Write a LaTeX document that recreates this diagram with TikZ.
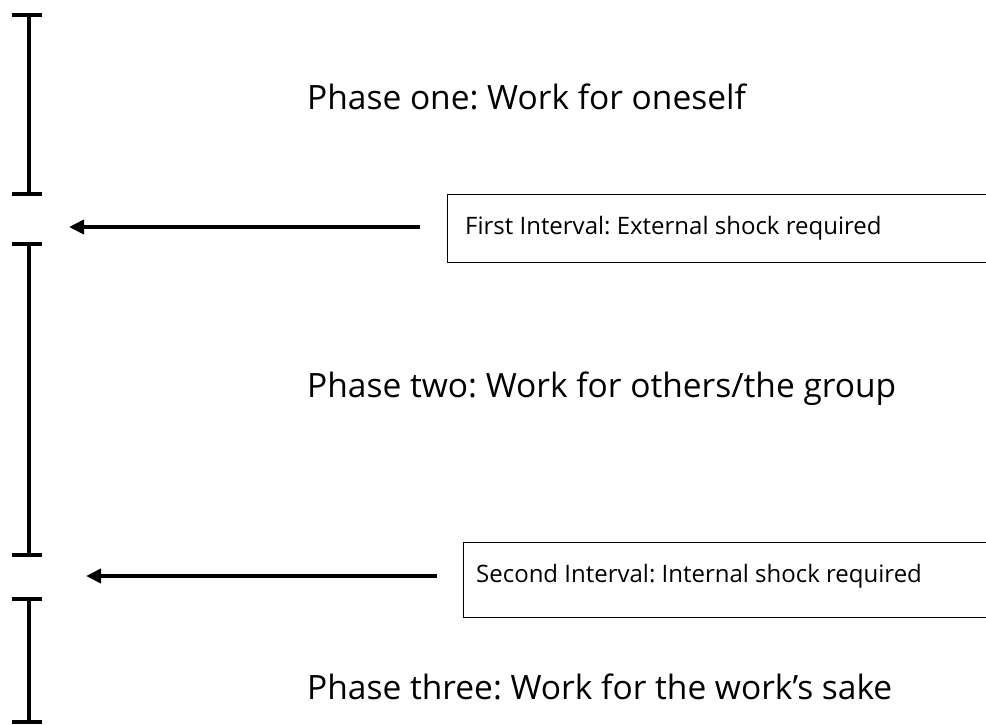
\documentclass[tikz,border=0pt]{standalone}
\usepackage{fontspec}
\setmainfont{Open Sans}
\usetikzlibrary{arrows.meta}
\frenchspacing
\begin{document}
\begin{tikzpicture}[x=1pt,y=-1pt,
  bracket/.style={line width=4.5pt},
  shock/.style={line width=4.5pt,-{Triangle[length=15pt,width=14pt]}},
  intervalbox/.style={draw,line width=0.8pt,inner sep=0pt},
  phase/.style={anchor=base west,inner sep=0pt,font=\fontsize{33.5}{40}\selectfont},
  boxtext/.style={anchor=base west,inner sep=0pt,font=\fontsize{24}{29}\selectfont}]
\useasboundingbox (0,0) rectangle (986,724);
\clip (0,0) rectangle (986,724);
% phase brackets
\draw[bracket] (12,15) -- (42,15) (29,15) -- (29,194) (12,194) -- (42,194);
\draw[bracket] (12,244) -- (42,244) (29,244) -- (29,555) (12,555) -- (42,555);
\draw[bracket] (12,599) -- (42,599) (29,599) -- (29,722) (12,722) -- (42,722);
% phase labels
\node[phase] (phase1) at (307,109) {Phase one: Work for oneself};
\node[phase] (phase2) at (307,397) {Phase two: Work for others/the group};
\node[phase] (phase3) at (307,699) {Phase three: Work for the work’s sake};
% interval boxes
\node[intervalbox,minimum width=560pt,minimum height=68pt,anchor=north west] (box1) at (447,194) {};
\node[intervalbox,minimum width=540pt,minimum height=75pt,anchor=north west] (box2) at (463,542) {};
\node[boxtext] (txt1) at (465,234) {First Interval: External shock required};
\node[boxtext] (txt2) at (476,582) {Second Interval: Internal shock required};
% arrows pointing to the gaps between phases
\coordinate (gap1) at (69,227);
\coordinate (gap2) at (86,576);
\draw[shock] ([xshift=-27pt]box1.west |- gap1) -- (gap1);
\draw[shock] ([xshift=-26pt]box2.west |- gap2) -- (gap2);
\end{tikzpicture}
\end{document}
